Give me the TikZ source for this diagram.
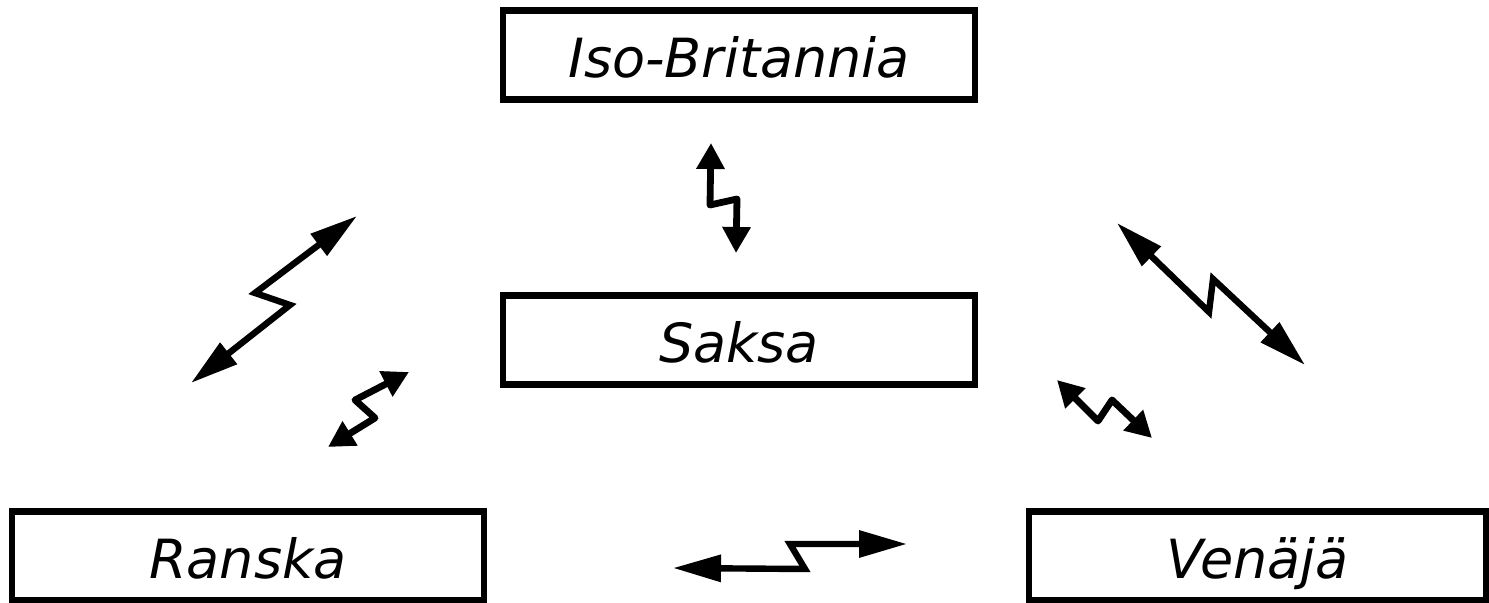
\documentclass[tikz,border=0pt]{standalone}
\usepackage{fontspec}
\setmainfont{DejaVu Sans}
\usetikzlibrary{arrows.meta}
\tikzset{
  country/.style={draw, line width=3.2pt, inner sep=0pt, minimum width=236pt, minimum height=44.5pt,
    font=\fontsize{27}{32}\selectfont\itshape, text height=22.5pt, text depth=0pt},
  bigbolt/.style={line width=3.2pt, line join=miter, {Triangle[length=24pt,width=13pt]}-{Triangle[length=24pt,width=13pt]}},
  smallbolt/.style={line width=3.4pt, line join=round, {Triangle[length=13pt,width=13.5pt]}-{Triangle[length=13pt,width=13.5pt]}}
}
\begin{document}
\begin{tikzpicture}[x=0.5pt,y=-0.5pt]
\useasboundingbox (0,0) rectangle (1489,603);
\node[country] (ib) at (739,55) {Iso-Britannia};
\node[country] (sa) at (739,340) {Saksa};
\node[country] (ra) at (248,556) {Ranska};
\node[country, minimum width=228.5pt] (ve) at (1257.5,556) {Venäjä};

% Iso-Britannia -- Saksa
\coordinate (a1) at (711,143); \coordinate (a2) at (710,205);
\coordinate (a3) at (737,199); \coordinate (a4) at (736,253);
\draw[smallbolt] (a1) -- (a2) -- (a3) -- (a4);

% big left
\coordinate (b1) at (357,216); \coordinate (b2) at (255,293);
\coordinate (b3) at (290,305); \coordinate (b4) at (191,383);
\draw[bigbolt] (b1) -- (b2) -- (b3) -- (b4);

% small left
\coordinate (c1) at (409,372); \coordinate (c2) at (355,400);
\coordinate (c3) at (375,418); \coordinate (c4) at (328,447);
\draw[smallbolt] (c1) -- (c2) -- (c3) -- (c4);

% big right
\coordinate (d1) at (1117,223); \coordinate (d2) at (1209,312);
\coordinate (d3) at (1213,279); \coordinate (d4) at (1305,365);
\draw[bigbolt] (d1) -- (d2) -- (d3) -- (d4);

% small right
\coordinate (e1) at (1057,380); \coordinate (e2) at (1098,421);
\coordinate (e3) at (1112,400); \coordinate (e4) at (1152,438);
\draw[smallbolt] (e1) -- (e2) -- (e3) -- (e4);

% bottom
\coordinate (f1) at (673,568); \coordinate (f2) at (805,569);
\coordinate (f3) at (790,544); \coordinate (f4) at (907,544);
\draw[bigbolt] (f1) -- (f2) -- (f3) -- (f4);
\end{tikzpicture}
\end{document}
